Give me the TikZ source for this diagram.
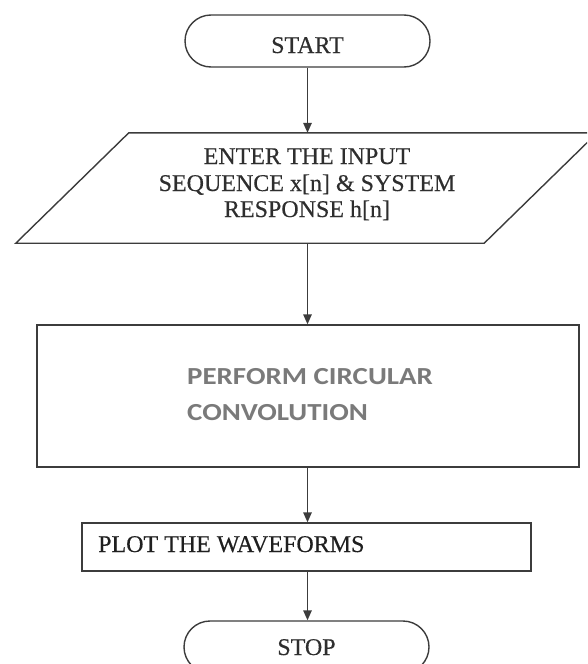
\documentclass[tikz,border=0pt]{standalone}
\usepackage{fontspec}
\setmainfont{Liberation Serif}
\newfontfamily\serifheavy[FakeBold=0.35]{Liberation Serif}
\newfontfamily\calfont[FakeStretch=1.18]{Carlito}
\usetikzlibrary{shapes.misc,arrows.meta,calc}
\definecolor{linegray}{HTML}{3C3C3C}
\definecolor{txtgray}{HTML}{2E2E2E}
\definecolor{softgray}{HTML}{7A7A7A}
\tikzset{
  outline/.style={draw=linegray, line width=1.4pt},
  terminal/.style={outline, rounded rectangle, minimum width=245pt, minimum height=52pt, inner sep=0pt},
  flowtext/.style={text=txtgray, font=\serifheavy\fontsize{24}{27}\selectfont, inner sep=0pt},
  softtext/.style={anchor=base west, inner sep=0pt, text=softgray, font=\calfont\bfseries\fontsize{24.5}{36}\selectfont},
  flow/.style={draw=linegray, line width=1.4pt, -{Triangle[length=10pt,width=8.5pt]}},
}
\begin{document}
\begin{tikzpicture}[x=1pt,y=-1pt]
\useasboundingbox (0,0) rectangle (587,664);
\clip (0,0) rectangle (587,664);

% terminals
\node[terminal] (start) at (307.5,41) {};
\node[flowtext, anchor=base] at (307.5,53) {START};
\node[terminal] (stop) at (306.5,647) {};
\node[flowtext, anchor=base] at (306.5,655) {STOP};

% input parallelogram, built on an invisible body box
\node[inner sep=0pt, minimum width=468pt, minimum height=110pt] (inp) at (306.5,188) {};
\draw[outline] ($(inp.south west)+(-56.5,0)$) -- ($(inp.south east)+(-56.5,0)$)
  -- ($(inp.north east)+(56.5,0)$) -- ($(inp.north west)+(56.5,0)$) -- cycle;
\node[flowtext, anchor=base] at (307,164) {ENTER THE INPUT};
\node[flowtext, anchor=base] at (307,191) {SEQUENCE x[n] \& SYSTEM};
\node[flowtext, anchor=base] at (307,217) {RESPONSE h[n]};

% process box
\node[outline, minimum width=542pt, minimum height=142pt, inner sep=0pt] (conv) at (308,396) {};
\node[softtext] at (187,384) {PERFORM CIRCULAR};
\node[softtext] at (187,420) {CONVOLUTION};

% plot box
\node[outline, minimum width=449pt, minimum height=48pt, inner sep=0pt] (plot) at (306.5,547) {};
\node[flowtext, anchor=base west, text=black!88] at (98,552) {PLOT THE WAVEFORMS};

% connectors
\draw[flow] (start.south) -- (start.south |- inp.north);
\draw[flow] (inp.south -| start.south) -- (start.south |- conv.north);
\draw[flow] (conv.south -| start.south) -- (start.south |- plot.north);
\draw[flow] (plot.south -| start.south) -- (start.south |- stop.north);
\end{tikzpicture}
\end{document}
